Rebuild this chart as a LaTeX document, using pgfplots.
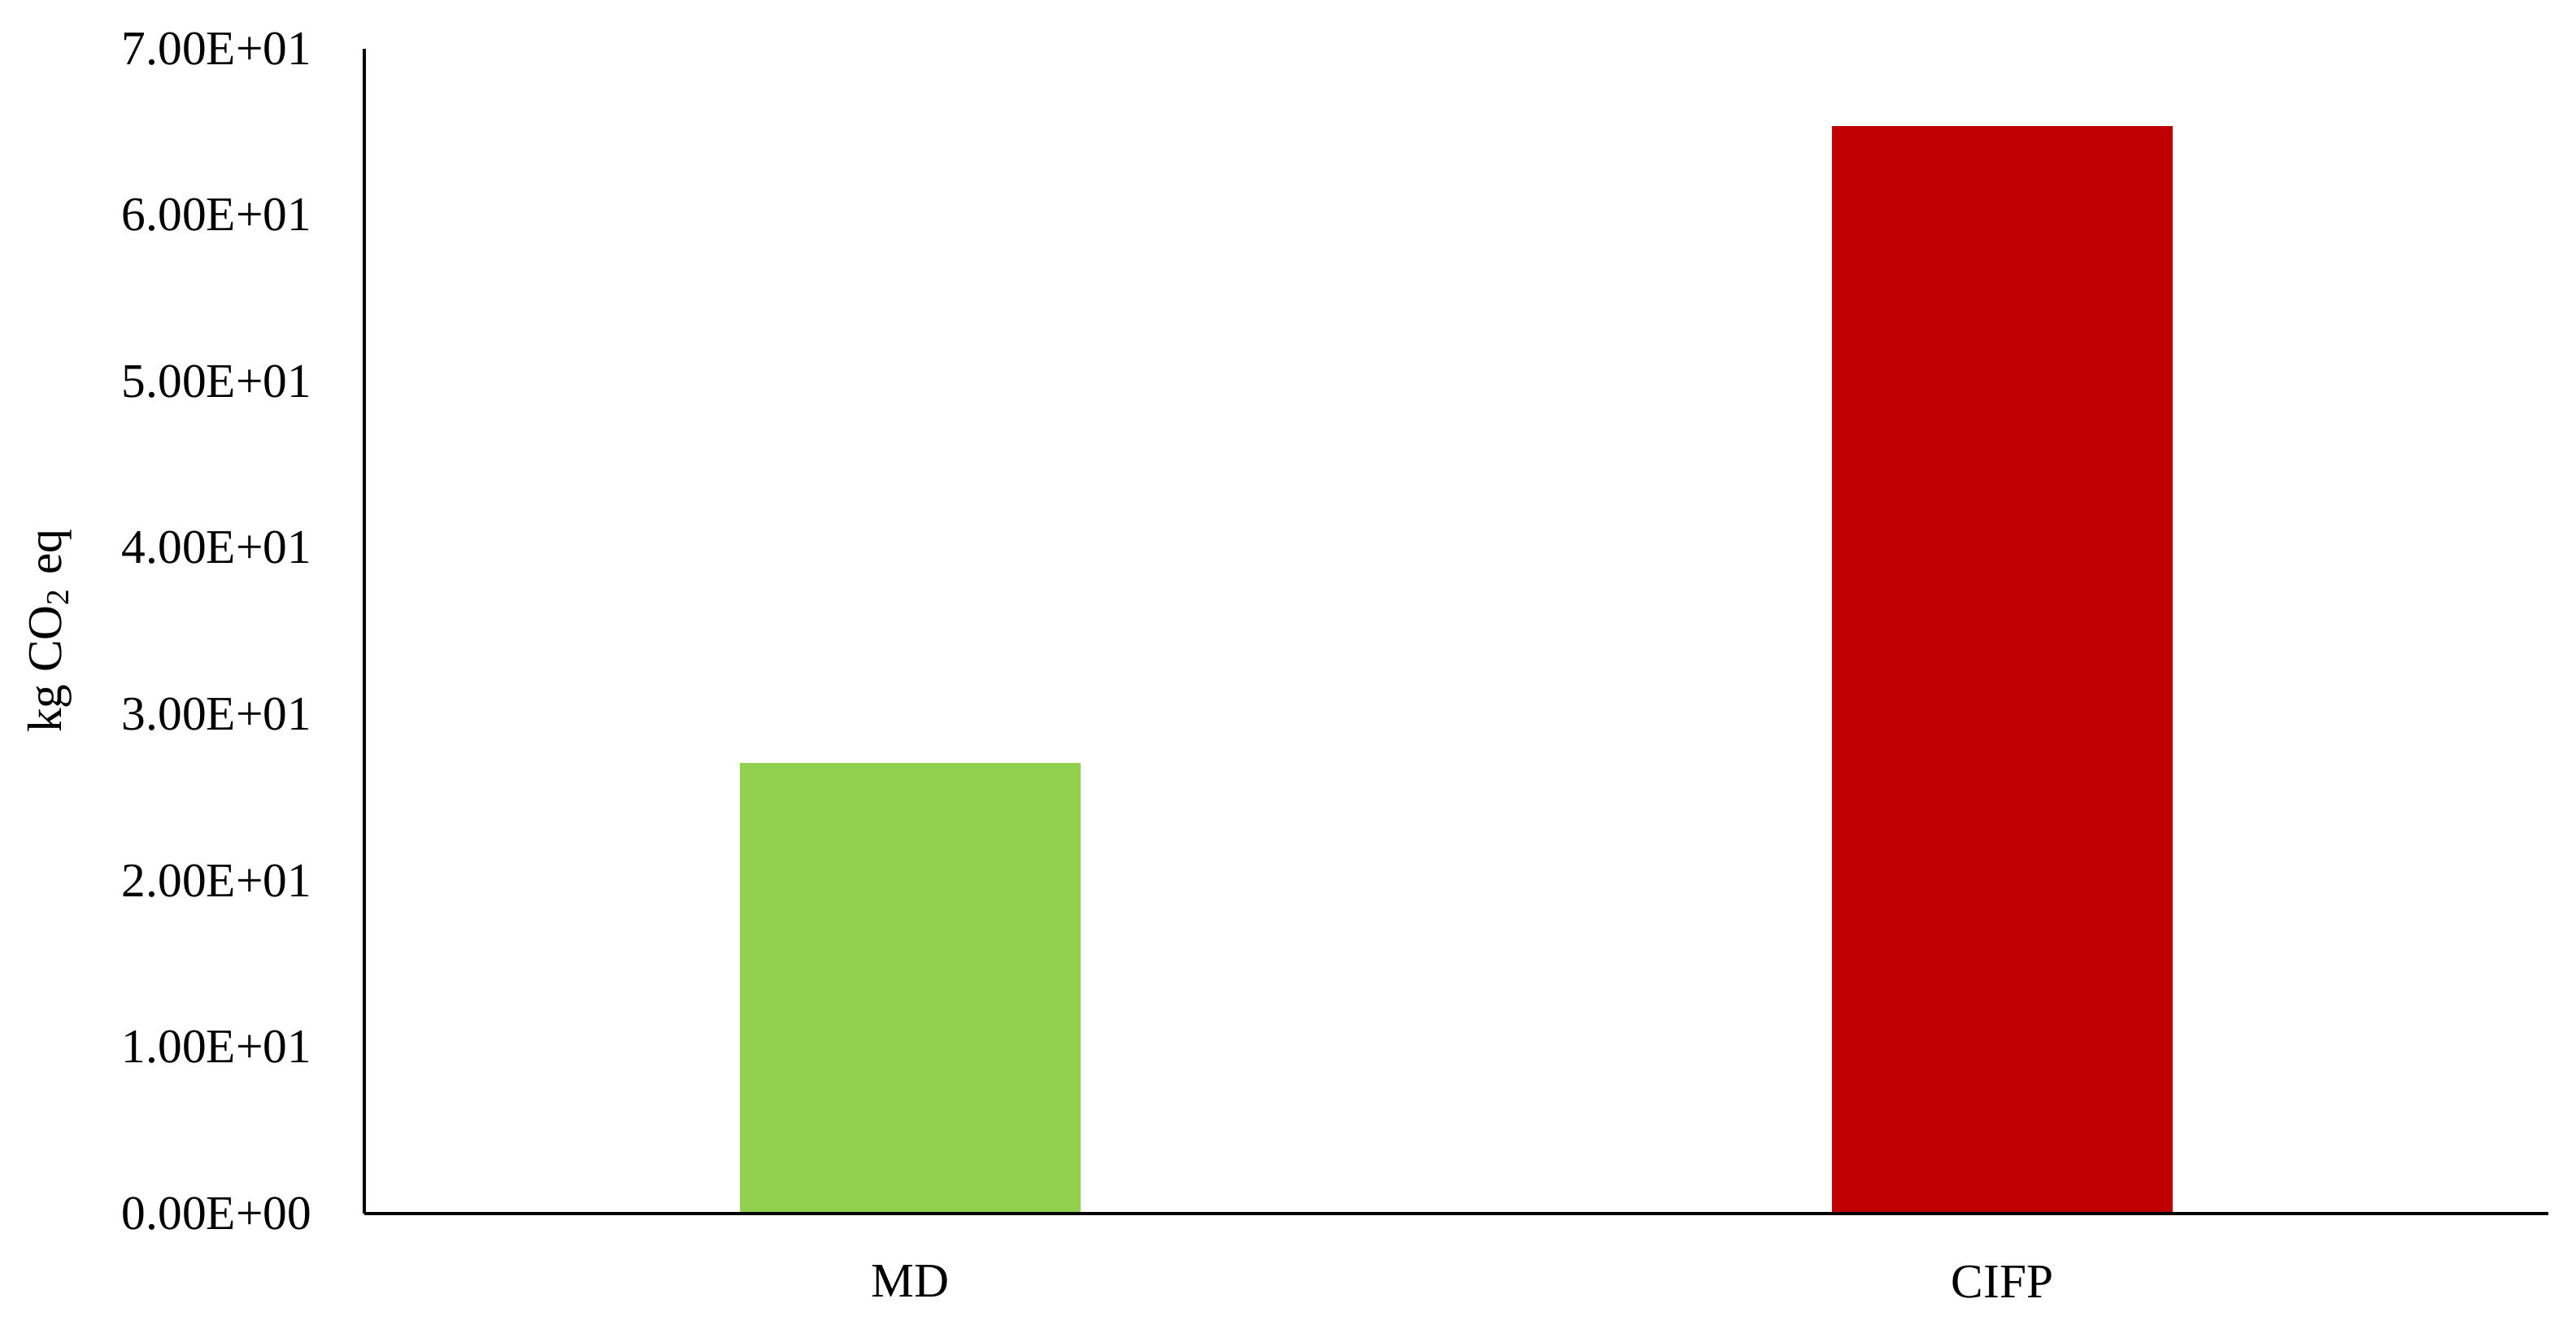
\documentclass[border=0pt]{standalone}
\usepackage{fontspec}
\setmainfont{Liberation Serif}
\usepackage{pgfplots}
\pgfplotsset{compat=1.18}
\definecolor{mdgreen}{HTML}{92D050}
\definecolor{cifpred}{HTML}{C00000}
\begin{document}
\fontsize{12}{14}\selectfont
\begin{tikzpicture}
\path[use as bounding box] (-90.5pt,-27.5pt) rectangle (549.5pt,301.4pt);
\begin{axis}[
  at={(0pt,0pt)}, anchor=south west,
  scale only axis,
  width=542.6pt, height=289.3pt,
  ybar, bar width=0.312, bar shift=0pt,
  xmin=-0.5, xmax=1.5,
  ymin=0, ymax=70,
  axis x line=bottom, axis y line=left,
  axis line style={-, line width=0.9pt, black},
  axis on top,
  xtick={0,1}, xticklabels={MD,CIFP},
  ytick={0,10,20,30,40,50,60,70},
  yticklabels={0.00E+00,1.00E+01,2.00E+01,3.00E+01,4.00E+01,5.00E+01,6.00E+01,7.00E+01},
  major tick length=0pt,
  yticklabel style={inner sep=0pt, anchor=east, xshift=-12.9pt},
  xticklabel style={inner sep=0pt, anchor=north, yshift=-12.7pt},
  ylabel={kg CO\textsubscript{2} eq},
  ylabel style={at={(axis description cs:-0.144,0.5)}, anchor=center, inner sep=0pt},
  every tick label/.append style={font=\fontsize{12}{14}\selectfont},
  label style={font=\fontsize{12}{14}\selectfont},
]
\addplot[draw=none, fill=mdgreen, bar shift=0pt] coordinates {(0,27.08)};
\addplot[draw=none, fill=cifpred, bar shift=0pt] coordinates {(1,65.36)};
\end{axis}
\end{tikzpicture}
\end{document}
